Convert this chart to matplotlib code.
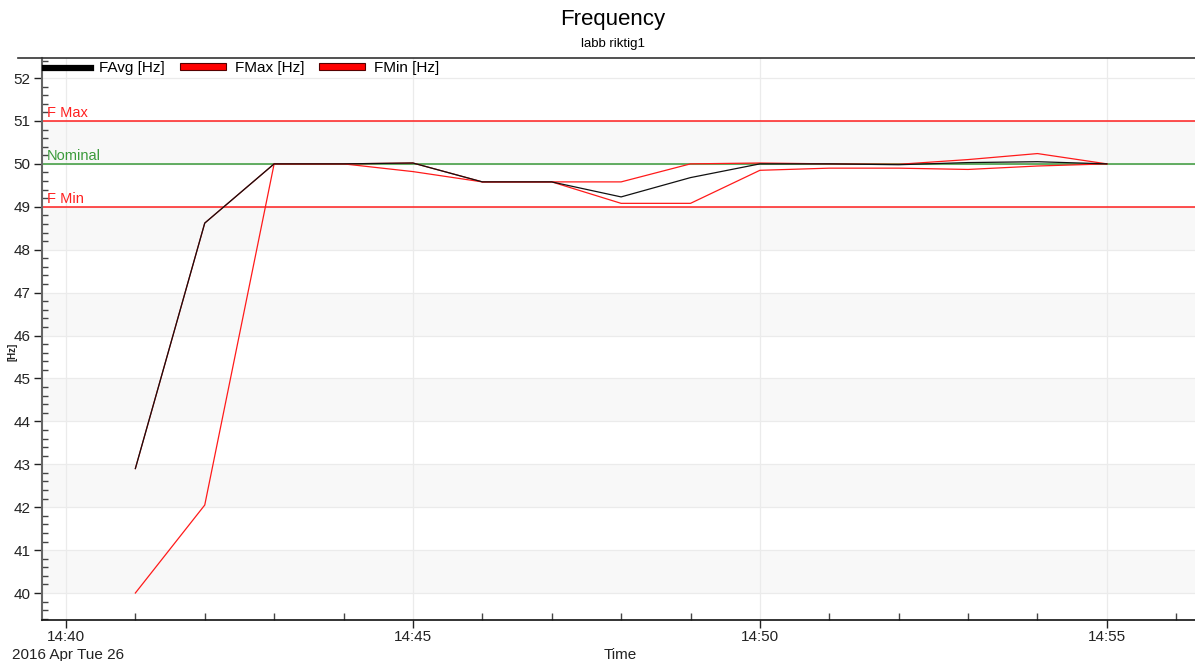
"""
frequency log from the lab run: average, max and min per minute
"""
import datetime as dt

import matplotlib
matplotlib.use('Agg')
import matplotlib.pyplot as plt
import matplotlib.dates as mdates
from matplotlib.lines import Line2D
from matplotlib.patches import Patch

plt.rcParams['font.family'] = ['Liberation Sans', 'DejaVu Sans']

# one sample per minute, 14:41 .. 14:55
minutes = list(range(41, 56))
f_avg = [42.9, 48.62, 50.0, 50.0, 50.02, 49.58, 49.58, 49.23, 49.68,
         50.0, 50.0, 49.98, 50.03, 50.05, 50.0]
f_max = [42.9, 48.62, 50.0, 50.0, 50.02, 49.58, 49.58, 49.58, 50.0,
         50.02, 50.0, 49.99, 50.1, 50.24, 50.0]
f_min = [40.0, 42.05, 50.0, 50.0, 49.82, 49.58, 49.58, 49.08, 49.08,
         49.85, 49.9, 49.9, 49.87, 49.95, 50.0]

# limit lines
limit_names = ['F Max', 'Nominal', 'F Min']
limit_values = [51.0, 50.0, 49.0]
limit_colors = ['#ff2020', '#3a9a3a', '#ff2020']

day = dt.datetime(2016, 4, 26, 14, 0)
times = [day + dt.timedelta(minutes=m) for m in minutes]

fig = plt.figure(figsize=(11.95, 6.61), dpi=100)
ax = fig.add_axes([0.0351, 0.062, 0.9649, 0.8502])
ax.set_axisbelow(True)

t0 = day + dt.timedelta(minutes=40)
xmin = t0 - dt.timedelta(minutes=0.346)
xmax = t0 + dt.timedelta(minutes=16.27)
ax.set_xlim(xmin, xmax)
ax.set_ylim(39.371, 52.466)

# alternating background bands
for lo in range(40, 52, 2):
    ax.axhspan(lo, lo + 1, color='#f8f8f8', zorder=0, lw=0)
ax.grid(True, which='major', color='#ebebeb', lw=0.9)

for name, val, col in zip(limit_names, limit_values, limit_colors):
    ax.axhline(val, color=col, lw=1.1, zorder=1)
    ax.text(0.0045, val + 0.02, name, color=col, fontsize=10.5,
            transform=ax.get_yaxis_transform(), va='bottom', ha='left')

ax.plot(times, f_max, color='#ff1a1a', lw=0.9, zorder=2)
ax.plot(times, f_min, color='#ff1a1a', lw=0.9, zorder=2)
ax.plot(times, f_avg, color='#111111', lw=0.9, zorder=3)

ax.xaxis.set_major_locator(mdates.MinuteLocator(byminute=range(0, 60, 5)))
ax.xaxis.set_minor_locator(mdates.MinuteLocator())
ax.xaxis.set_major_formatter(mdates.DateFormatter('%H:%M'))
ax.yaxis.set_major_locator(plt.MultipleLocator(1))
ax.yaxis.set_minor_locator(plt.MultipleLocator(0.2))

ax.tick_params(axis='both', which='major', direction='out', length=6,
               width=1, labelsize=11, colors='#222222')
ax.tick_params(axis='y', which='minor', direction='in', length=4,
               width=1, color='#444444')
ax.tick_params(axis='x', which='minor', direction='in', length=5,
               width=1, color='#444444')
ax.tick_params(axis='x', which='major', pad=1.5)
ax.tick_params(axis='y', which='major', pad=2)

ax.spines['right'].set_visible(False)
ax.spines['top'].set_visible(False)
ax.spines['left'].set_color('#666666')
ax.spines['left'].set_linewidth(1.5)
ax.spines['bottom'].set_color('#111111')
ax.spines['bottom'].set_linewidth(1.2)

# top frame line over the whole width
fig.add_artist(Line2D([18 / 1195, 1.0], [1 - 58 / 661, 1 - 58 / 661],
                      color='#333333', lw=1.2, transform=fig.transFigure))

fig.text(0.513, 1 - 20 / 661, 'Frequency', ha='center', va='center',
         fontsize=16)
fig.text(0.513, 1 - 44 / 661, 'labb riktig1', ha='center', va='center',
         fontsize=9.5)
fig.text(12 / 1195, 1 - 655 / 661, '2016 Apr Tue 26', ha='left',
         va='center', fontsize=11, color='#222222')
fig.text(620 / 1195, 1 - 655 / 661, 'Time', ha='center', va='center',
         fontsize=11, color='#222222')
fig.text(12 / 1195, 1 - 352 / 661, '[Hz]', rotation=90, ha='center',
         va='center', fontsize=7, fontweight='bold', color='#222222')

handles = [Line2D([0], [0], color='black', lw=4.5),
           Patch(facecolor='#ff0000', edgecolor='#550000', lw=0.8),
           Patch(facecolor='#ff0000', edgecolor='#550000', lw=0.8)]
ax.legend(handles, ['FAvg [Hz]', 'FMax [Hz]', 'FMin [Hz]'], ncol=3,
          loc='center left', bbox_to_anchor=(0.0028, 0.982), frameon=False,
          fontsize=11, handlelength=3.0, handleheight=0.3,
          columnspacing=1.0, handletextpad=0.55, borderaxespad=0,
          borderpad=0)

fig.savefig('out.png', dpi=100)
